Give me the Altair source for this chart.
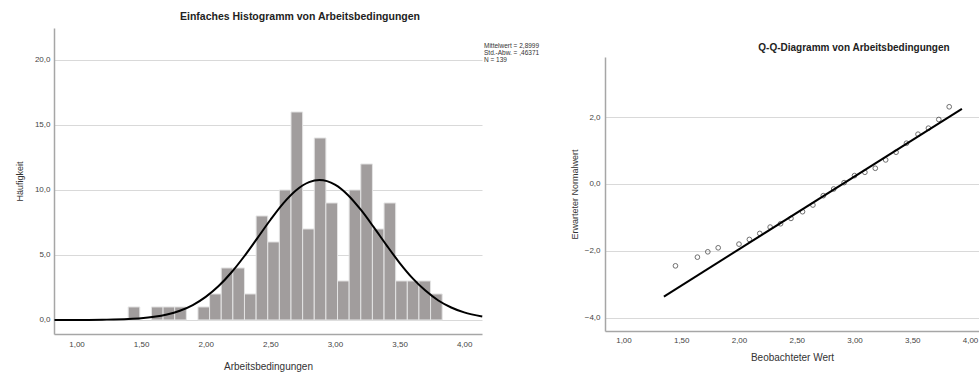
import altair as alt
import pandas as pd

# ---------------- data ----------------
# Histogram (bin starts, bin width 0.09) and counts
bin_start = [1.40, 1.49, 1.58, 1.67, 1.76, 1.85, 1.94, 2.03, 2.12, 2.21, 2.30, 2.39,
             2.48, 2.57, 2.66, 2.75, 2.84, 2.93, 3.02, 3.11, 3.20, 3.29, 3.38, 3.47,
             3.56, 3.65, 3.74]
counts = [1, 0, 1, 1, 1, 0, 1, 2, 4, 4, 2, 8, 6, 10, 16, 7, 14, 9, 3, 10, 12, 7, 9,
          3, 3, 3, 2]
BIN_W = 0.09

# Normal curve as drawn over the histogram (read at points)
curve_x = [0.83, 1.0, 1.2, 1.4, 1.5, 1.6, 1.7, 1.8, 1.9, 2.0, 2.1, 2.2, 2.3, 2.4, 2.5,
           2.6, 2.7, 2.8, 2.88, 3.0, 3.1, 3.2, 3.3, 3.4, 3.5, 3.6, 3.7, 3.8, 3.9, 4.0,
           4.14]
curve_y = [0.0, 0.0, 0.02, 0.07, 0.13, 0.24, 0.42, 0.71, 1.15, 1.78, 2.61, 3.67, 4.92,
           6.30, 7.69, 8.97, 9.98, 10.60, 10.76, 10.41, 9.62, 8.48, 7.14, 5.74, 4.40,
           3.22, 2.26, 1.50, 0.96, 0.58, 0.27]

# Q-Q plot points
qq_x = [1.45, 1.64, 1.73, 1.82, 2.00, 2.09, 2.18, 2.27, 2.36, 2.45, 2.55, 2.64, 2.73,
        2.82, 2.91, 3.00, 3.09, 3.18, 3.27, 3.36, 3.45, 3.55, 3.64, 3.73, 3.82]
qq_y = [-2.45, -2.19, -2.03, -1.91, -1.80, -1.66, -1.48, -1.29, -1.19, -1.03, -0.83,
        -0.63, -0.35, -0.15, 0.04, 0.25, 0.35, 0.47, 0.72, 0.95, 1.22, 1.49, 1.67,
        1.93, 2.31]
# Q-Q reference line end points
qq_line_x = [1.35, 3.93]
qq_line_y = [-3.37, 2.25]

# Texts
hist_title = "Einfaches Histogramm von Arbeitsbedingungen"
qq_title = "Q-Q-Diagramm von Arbeitsbedingungen"
stats_text = "Mittelwert = 2,8999\nStd.-Abw. = ,46371\nN = 139"
hist_x_title = "Arbeitsbedingungen"
hist_y_title = "Häufigkeit"
qq_x_title = "Beobachteter Wert"
qq_y_title = "Erwarteter Normalwert"
x_ticks = [1.0, 1.5, 2.0, 2.5, 3.0, 3.5, 4.0]
hist_y_ticks = [0, 5, 10, 15, 20]
qq_y_ticks = [-4, -2, 0, 2]

FONT = "Liberation Sans"
LABEL_C = "#444444"
TITLE_C = "#333333"
GRID_C = "#d9d9d9"
DOMAIN_C = "#a6a6a6"
BAR_C = "#a19d9d"

fmt2 = "replace(format(datum.value, '.2f'), '.', ',')"
fmt1 = "replace(format(datum.value, '.1f'), '.', ',')"


def x_axis(title, label_pad, title_pad):
    return alt.Axis(values=x_ticks, labelExpr=fmt2, title=title, grid=False,
                    ticks=False, domainColor=DOMAIN_C, domainWidth=1.5,
                    labelPadding=label_pad, titlePadding=title_pad, labelFontSize=8,
                    titleFontSize=10, labelColor=LABEL_C, titleColor=TITLE_C,
                    titleFontWeight="normal", labelFont=FONT, titleFont=FONT)


def y_axis(title, ticks, label_pad, title_pad):
    return alt.Axis(values=ticks, labelExpr=fmt1, title=title, grid=True,
                    gridColor=GRID_C, gridWidth=1, ticks=False, domainColor=DOMAIN_C,
                    domainWidth=1.5, labelPadding=label_pad, titlePadding=title_pad,
                    labelFontSize=8, titleFontSize=9, labelColor=LABEL_C,
                    titleColor=TITLE_C, titleFontWeight="normal", labelFont=FONT,
                    titleFont=FONT)


# ---------------- histogram ----------------
hist_df = pd.DataFrame({"start": bin_start, "count": counts})
curve_df = pd.DataFrame({"cx": curve_x, "cy": curve_y})

hx_scale = alt.Scale(domain=[0.826, 4.138], nice=False, zero=False)
hy_scale = alt.Scale(domain=[-1.08, 22.46], nice=False, zero=False)
hx_axis = x_axis(hist_x_title, 6, 13)
hy_axis = y_axis(hist_y_title, hist_y_ticks, 4, 10)

bars = alt.Chart(hist_df).transform_filter("datum.count > 0").transform_calculate(
    end=f"datum.start + {BIN_W}"
).mark_rect(fill=BAR_C, stroke="#e4e4e4", strokeWidth=1).encode(
    x=alt.X("start:Q", scale=hx_scale, axis=hx_axis),
    x2="end:Q",
    y=alt.Y("count:Q", scale=hy_scale, axis=hy_axis),
    y2=alt.datum(0),
)

curve = alt.Chart(curve_df).mark_line(color="black", strokeWidth=2,
                                      interpolate="monotone").encode(
    x=alt.X("cx:Q", scale=hx_scale, axis=hx_axis),
    y=alt.Y("cy:Q", scale=hy_scale, axis=hy_axis),
)

# invisible frame fixing the overall page extent (979 x 373)
frame = alt.Chart(pd.DataFrame({"f": [0]})).mark_rect(
    fill="white", opacity=0, strokeWidth=0
).encode(x=alt.value(-54), x2=alt.value(925), y=alt.value(-28), y2=alt.value(345))

htitle = alt.Chart(pd.DataFrame({"t": [hist_title]})).mark_text(
    font=FONT, fontSize=10.5, fontWeight="bold", color="#222222", align="center",
    baseline="alphabetic"
).encode(x=alt.value(246), y=alt.value(-8), text="t:N")

stats = alt.Chart(pd.DataFrame({"t": [stats_text]})).mark_text(
    font=FONT, fontSize=6.5, color="#333333", align="left", baseline="middle",
    lineBreak="\n", lineHeight=6.8
).encode(x=alt.value(430), y=alt.value(18), text="t:N")

hist = alt.layer(bars, curve, frame, htitle, stats).properties(width=428, height=306)

# ---------------- Q-Q plot ----------------
qq_df = pd.DataFrame({"x": qq_x, "y": qq_y})
line_df = pd.DataFrame({"lx": qq_line_x, "ly": qq_line_y})

qx_scale = alt.Scale(domain=[0.84, 4.078], nice=False, zero=False)
qy_scale = alt.Scale(domain=[-4.40, 3.80], range=[303, 29], nice=False, zero=False)
qx_axis = x_axis(qq_x_title, 5, 8)
qy_axis = y_axis(qq_y_title, qq_y_ticks, 5, 5)

pts = alt.Chart(qq_df).mark_point(shape="circle", filled=False, color="#333333",
                                  strokeWidth=1, size=22).encode(
    x=alt.X("x:Q", scale=qx_scale, axis=qx_axis),
    y=alt.Y("y:Q", scale=qy_scale, axis=qy_axis),
)

qline = alt.Chart(line_df).mark_line(color="black", strokeWidth=2).encode(
    x=alt.X("lx:Q", scale=qx_scale, axis=qx_axis),
    y=alt.Y("ly:Q", scale=qy_scale, axis=qy_axis),
)

qtitle = alt.Chart(pd.DataFrame({"t": [qq_title]})).mark_text(
    font=FONT, fontSize=10, fontWeight="bold", color="#222222", align="center",
    baseline="alphabetic"
).encode(x=alt.value(249), y=alt.value(23), text="t:N")

qq = alt.layer(pts, qline, qtitle).properties(width=374, height=303)

chart = alt.hconcat(hist, qq, spacing=123, bounds="flush").properties(
    padding=0,
    background="white",
).configure_view(stroke=None)

chart.save("out.html", embed_options={"renderer": "svg", "actions": False})
